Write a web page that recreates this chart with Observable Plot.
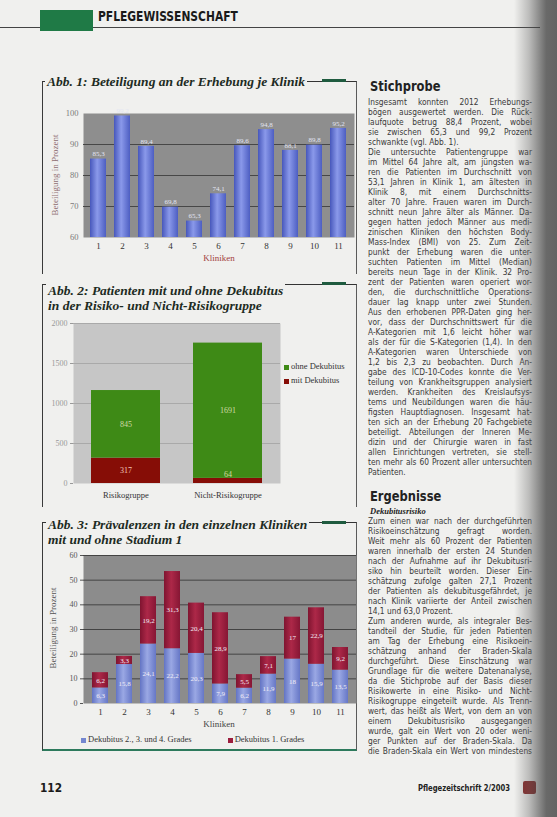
<!DOCTYPE html>
<html><head><meta charset="utf-8">
<script src="https://cdn.jsdelivr.net/npm/d3@7"></script>
<script src="https://cdn.jsdelivr.net/npm/@observablehq/plot@0.6"></script>
<style>
html,body{margin:0;padding:0;}
body{width:557px;height:817px;position:relative;overflow:hidden;background:#f0f0ee;font-family:"Liberation Sans",Arial,sans-serif;color:#333;}
.abs{position:absolute;}
.cond{font-family:"DejaVu Sans Condensed","DejaVu Sans",sans-serif;font-stretch:condensed;transform-origin:left top;white-space:nowrap;}
.box{position:absolute;border-left:1px solid #3a3a3a;border-right:1px solid #5a5a5a;border-top:1px solid #333;}
.title{position:absolute;background:#f0f0ee;font-family:"Liberation Serif",serif;font-style:italic;font-weight:bold;font-size:13.5px;line-height:15px;color:#1d2b23;padding:0 2px;}
.gbar{position:absolute;height:3px;background:#1f5b3f;}
.col{position:absolute;left:368px;width:164px;font-family:"DejaVu Sans Condensed","DejaVu Sans",sans-serif;font-size:8.3px;line-height:10px;color:#3a3a3a;}
.col div{white-space:nowrap;height:10px;overflow:visible;}
.axt{position:absolute;font-family:"Liberation Serif",serif;font-size:9px;white-space:nowrap;}
.leg{position:absolute;font-family:"Liberation Serif",serif;font-size:8.5px;color:#333;white-space:nowrap;}
.leg span.sw{display:inline-block;width:5px;height:5px;margin-right:2px;vertical-align:middle;}
</style></head>
<body>
<svg width="0" height="0" style="position:absolute">
<defs>
<linearGradient id="gBlue1" x1="0" x2="1" y1="0" y2="0">
<stop offset="0" stop-color="#4757bb"/><stop offset="0.45" stop-color="#8a99ea"/><stop offset="1" stop-color="#4d5ec2"/>
</linearGradient>
<linearGradient id="gBlue3" x1="0" x2="1" y1="0" y2="0">
<stop offset="0" stop-color="#6374c4"/><stop offset="0.45" stop-color="#9aa8e4"/><stop offset="1" stop-color="#6677c6"/>
</linearGradient>
<linearGradient id="gRed3" x1="0" x2="1" y1="0" y2="0">
<stop offset="0" stop-color="#7f1430"/><stop offset="0.45" stop-color="#ad2848"/><stop offset="1" stop-color="#861634"/>
</linearGradient>
</defs>
</svg>

<!-- header -->
<div class="abs" style="left:0;top:27px;width:540px;height:1px;background:#444;"></div>
<div class="abs" style="left:40px;top:10px;width:53px;height:21px;background:#1f7a46;"></div>
<div class="abs cond" style="left:98px;top:8px;font-size:14px;font-weight:bold;color:#1a1a1a;transform:scaleX(0.85);">PFLEGEWISSENSCHAFT</div>

<!-- chart frames -->
<div class="box" style="left:42px;top:81px;width:313px;height:192px;"></div>
<div class="title" style="left:45px;top:74px;">Abb. 1: Beteiligung an der Erhebung je Klinik</div>
<div class="gbar" style="left:322px;top:79px;width:24px;"></div>

<div class="box" style="left:42px;top:284px;width:313px;height:222px;"></div>
<div class="title" style="left:46px;top:283px;">Abb. 2: Patienten mit und ohne Dekubitus<br>in der Risiko- und Nicht-Risikogruppe</div>
<div class="gbar" style="left:322px;top:282px;width:24px;"></div>

<div class="box" style="left:42px;top:522px;width:313px;height:226px;border-bottom:2px solid #2d7a5c;"></div>
<div class="title" style="left:46px;top:517px;">Abb. 3: Prävalenzen in den einzelnen Kliniken<br>mit und ohne Stadium 1</div>
<div class="gbar" style="left:322px;top:521px;width:24px;"></div>

<div id="c1" class="abs" style="left:36px;top:100px;"></div>
<div class="axt" style="left:219px;top:258px;transform:translate(-50%,-50%);color:#a34040;">Kliniken</div>
<div class="axt" style="left:55px;top:175px;transform:translate(-50%,-50%) rotate(-90deg);color:#8e6e72;">Beteiligung in Prozent</div>

<div id="c2" class="abs" style="left:36px;top:310px;"></div>
<div id="leg2" class="leg" style="left:284px;top:361px;"></div>

<div id="c3" class="abs" style="left:36px;top:545px;"></div>
<div class="axt" style="left:219px;top:724px;transform:translate(-50%,-50%);color:#444;">Kliniken</div>
<div class="axt" style="left:53px;top:628px;transform:translate(-50%,-50%) rotate(-90deg);color:#555;">Beteiligung in Prozent</div>
<div id="leg3" class="leg" style="left:81px;top:734px;"></div>

<!-- text column -->
<div class="abs cond" style="left:370px;top:78px;font-size:14.5px;font-weight:bold;color:#222;transform:scaleX(0.88);">Stichprobe</div>
<div class="col" style="top:97px;">
<div class="jl">Insgesamt konnten 2012 Erhebungs-</div>
<div class="jl">bögen ausgewertet werden. Die Rück-</div>
<div class="jl">laufquote betrug 88,4 Prozent, wobei</div>
<div class="jl">sie zwischen 65,3 und 99,2 Prozent</div>
<div class="ll">schwankte (vgl. Abb. 1).</div>
<div class="jl">Die untersuchte Patientengruppe war</div>
<div class="jl">im Mittel 64 Jahre alt, am jüngsten wa-</div>
<div class="jl">ren die Patienten im Durchschnitt von</div>
<div class="jl">53,1 Jahren in Klinik 1, am ältesten in</div>
<div class="jl">Klinik 8, mit einem Durchschnitts-</div>
<div class="jl">alter 70 Jahre. Frauen waren im Durch-</div>
<div class="jl">schnitt neun Jahre älter als Männer. Da-</div>
<div class="jl">gegen hatten jedoch Männer aus medi-</div>
<div class="jl">zinischen Kliniken den höchsten Body-</div>
<div class="jl">Mass-Index (BMI) von 25. Zum Zeit-</div>
<div class="jl">punkt der Erhebung waren die unter-</div>
<div class="jl">suchten Patienten im Mittel (Median)</div>
<div class="jl">bereits neun Tage in der Klinik. 32 Pro-</div>
<div class="jl">zent der Patienten waren operiert wor-</div>
<div class="jl">den, die durchschnittliche Operations-</div>
<div class="jl">dauer lag knapp unter zwei Stunden.</div>
<div class="jl">Aus den erhobenen PPR-Daten ging her-</div>
<div class="jl">vor, dass der Durchschnittswert für die</div>
<div class="jl">A-Kategorien mit 1,6 leicht höher war</div>
<div class="jl">als der für die S-Kategorien (1,4). In den</div>
<div class="jl">A-Kategorien waren Unterschiede von</div>
<div class="jl">1,2 bis 2,3 zu beobachten. Durch An-</div>
<div class="jl">gabe des ICD-10-Codes konnte die Ver-</div>
<div class="jl">teilung von Krankheitsgruppen analysiert</div>
<div class="jl">werden. Krankheiten des Kreislaufsys-</div>
<div class="jl">tems und Neubildungen waren die häu-</div>
<div class="jl">figsten Hauptdiagnosen. Insgesamt hat-</div>
<div class="jl">ten sich an der Erhebung 20 Fachgebiete</div>
<div class="jl">beteiligt. Abteilungen der Inneren Me-</div>
<div class="jl">dizin und der Chirurgie waren in fast</div>
<div class="jl">allen Einrichtungen vertreten, sie stell-</div>
<div class="jl">ten mehr als 60 Prozent aller untersuchten</div>
<div class="ll">Patienten.</div>
</div>
<div class="abs cond" style="left:370px;top:488px;font-size:14.5px;font-weight:bold;color:#222;transform:scaleX(0.88);">Ergebnisse</div>
<div class="abs" style="left:370px;top:506px;font-family:'Liberation Serif',serif;font-size:8.5px;font-weight:bold;font-style:italic;color:#222;">Dekubitusrisiko</div>
<div class="col" style="top:516px;">
<div class="jl">Zum einen war nach der durchgeführten</div>
<div class="jl">Risikoeinschätzung gefragt worden.</div>
<div class="jl">Weit mehr als 60 Prozent der Patienten</div>
<div class="jl">waren innerhalb der ersten 24 Stunden</div>
<div class="jl">nach der Aufnahme auf ihr Dekubitusri-</div>
<div class="jl">siko hin beurteilt worden. Dieser Ein-</div>
<div class="jl">schätzung zufolge galten 27,1 Prozent</div>
<div class="jl">der Patienten als dekubitusgefährdet, je</div>
<div class="jl">nach Klinik variierte der Anteil zwischen</div>
<div class="ll">14,1 und 63,0 Prozent.</div>
<div class="jl">Zum anderen wurde, als integraler Bes-</div>
<div class="jl">tandteil der Studie, für jeden Patienten</div>
<div class="jl">am Tag der Erhebung eine Risikoein-</div>
<div class="jl">schätzung anhand der Braden-Skala</div>
<div class="jl">durchgeführt. Diese Einschätzung war</div>
<div class="jl">Grundlage für die weitere Datenanalyse,</div>
<div class="jl">da die Stichprobe auf der Basis dieser</div>
<div class="jl">Risikowerte in eine Risiko- und Nicht-</div>
<div class="jl">Risikogruppe eingeteilt wurde. Als Trenn-</div>
<div class="jl">wert, das heißt als Wert, von dem an von</div>
<div class="jl">einem Dekubitusrisiko ausgegangen</div>
<div class="jl">wurde, galt ein Wert von 20 oder weni-</div>
<div class="jl">ger Punkten auf der Braden-Skala. Da</div>
<div class="jl">die Braden-Skala ein Wert von mindestens</div>
</div>

<!-- footer -->
<div class="abs cond" style="left:40px;top:780px;font-size:13px;font-weight:bold;color:#1a1a1a;transform:scaleX(0.9);">112</div>
<div class="abs cond" style="left:418px;top:782px;font-size:9.5px;font-weight:bold;color:#222;transform:scaleX(0.8);">Pflegezeitschrift 2/2003</div>
<div class="abs" style="left:523px;top:781px;width:13px;height:13px;background:#8a2b2b;border-radius:2px;"></div>

<!-- right page shadow -->
<div class="abs" style="left:514px;top:0;width:43px;height:817px;background:linear-gradient(to right, rgba(80,80,80,0) 0%, rgba(90,90,90,0.35) 35%, rgba(60,60,60,0.75) 75%, rgba(75,75,75,0.85) 100%);"></div>

<script>
// ---------- data ----------
const kliniken = ["1", "2", "3", "4", "5", "6", "7", "8", "9", "10", "11"];
const beteiligung = [85.3, 99.2, 89.4, 69.8, 65.3, 74.1, 89.6, 94.8, 88.1, 89.8, 95.2];
const yTicks1 = [60, 70, 80, 90, 100];

const gruppen = ["Risikogruppe", "Nicht-Risikogruppe"];
const mitDekubitus = [317, 64];
const ohneDekubitus = [845, 1691];
const yTicks2 = [0, 500, 1000, 1500, 2000];
const legende2 = ["ohne Dekubitus", "mit Dekubitus"];
const farben2 = ["#3e8a16", "#860d06"];

const grad234 = [6.3, 15.8, 24.1, 22.2, 20.3, 7.9, 6.2, 11.9, 18, 15.9, 13.5];
const grad1 = [6.2, 3.3, 19.2, 31.3, 20.4, 28.9, 5.5, 7.1, 17, 22.9, 9.2];
const yTicks3 = [0, 10, 20, 30, 40, 50, 60];
const legende3 = ["Dekubitus 2., 3. und 4. Grades", "Dekubitus 1. Grades"];
const farben3 = ["#7487d0", "#9c1e3e"];

const fmt = v => String(v).replace(".", ",");
const serif = "'Liberation Serif', 'Times New Roman', serif";

// ---------- chart 1 ----------
const d1 = kliniken.map((k, i) => ({k, v: beteiligung[i]}));
const c1 = Plot.plot({
  width: 322, height: 172,
  marginLeft: 47, marginRight: 4, marginTop: 13, marginBottom: 35,
  style: {background: "transparent", fontFamily: serif, overflow: "visible"},
  x: {domain: kliniken, paddingInner: 0.32, paddingOuter: 0.16, axis: null},
  y: {domain: [yTicks1[0], yTicks1[yTicks1.length - 1]], axis: null},
  marks: [
    Plot.frame({fill: "#8e8e8e"}),
    Plot.ruleY(yTicks1.slice(1, -1), {stroke: "#474747"}),
    Plot.barY(d1, {x: "k", y1: yTicks1[0], y2: "v", fill: "url(#gBlue1)"}),
    Plot.text(d1, {x: "k", y: "v", text: d => fmt(d.v), dy: -5, fill: "#e2e5f3", fontSize: 7}),
    Plot.axisX({tickSize: 0, tickPadding: 5, fontSize: 9, color: "#333", label: null}),
    Plot.axisY({ticks: yTicks1, tickFormat: d => String(d), tickSize: 0, tickPadding: 5, fontSize: 8.5, color: "#7a7a7a", label: null})
  ]
});
document.getElementById("c1").appendChild(c1);

// ---------- chart 2 ----------
const d2 = [];
gruppen.forEach((g, i) => {
  d2.push({g, s: legende2[1], n: mitDekubitus[i]});
  d2.push({g, s: legende2[0], n: ohneDekubitus[i]});
});
const small = 150;
const c2 = Plot.plot({
  width: 250, height: 195,
  marginLeft: 37, marginRight: 6, marginTop: 13, marginBottom: 22,
  style: {background: "transparent", fontFamily: serif, overflow: "visible"},
  x: {domain: gruppen, paddingInner: 0.32, paddingOuter: 0.165, axis: null},
  y: {domain: [yTicks2[0], yTicks2[yTicks2.length - 1]], axis: null},
  color: {domain: legende2, range: farben2},
  marks: [
    Plot.frame({fill: "#c6c6c6"}),
    Plot.ruleY(yTicks2.slice(1), {stroke: "#a9a9a9"}),
    Plot.barY(d2, {x: "g", y: "n", z: "s", fill: "s"}),
    Plot.text(d2, Plot.stackY({x: "g", y: "n", z: "s", text: d => d.n >= small ? String(d.n) : "", fill: d => d.s === legende2[0] ? "#cfd9a6" : "#f2c7b8", fontSize: 8})),
    Plot.text(d2, Plot.stackY({x: "g", y: "n", z: "s", text: d => d.n < small ? String(d.n) : "", dy: -7, fill: "#d8d8a0", fontSize: 8})),
    Plot.axisX({tickSize: 0, tickPadding: 8, fontSize: 8.5, color: "#333", label: null}),
    Plot.axisY({ticks: yTicks2, tickFormat: d => String(d), tickSize: 3, tickPadding: 3, fontSize: 8, color: "#999", label: null})
  ]
});
document.getElementById("c2").appendChild(c2);

// ---------- chart 3 ----------
const d3d = [];
kliniken.forEach((k, i) => {
  d3d.push({k, s: legende3[0], v: grad234[i]});
  d3d.push({k, s: legende3[1], v: grad1[i]});
});
const c3 = Plot.plot({
  width: 322, height: 180,
  marginLeft: 47, marginRight: 2, marginTop: 10, marginBottom: 22,
  style: {background: "transparent", fontFamily: serif, overflow: "visible"},
  x: {domain: kliniken, paddingInner: 0.35, paddingOuter: 0.175, axis: null},
  y: {domain: [yTicks3[0], yTicks3[yTicks3.length - 1]], axis: null},
  color: {domain: legende3, range: ["url(#gBlue3)", "url(#gRed3)"]},
  marks: [
    Plot.frame({fill: "#8c8c8c"}),
    Plot.ruleY(yTicks3.slice(1), {stroke: "#434343"}),
    Plot.barY(d3d, {x: "k", y: "v", z: "s", fill: "s"}),
    Plot.text(d3d, Plot.stackY({x: "k", y: "v", z: "s", text: d => fmt(d.v), fill: "#f1eef6", fontSize: 7})),
    Plot.axisX({tickSize: 0, tickPadding: 5, fontSize: 9, color: "#333", label: null}),
    Plot.axisY({ticks: yTicks3, tickFormat: d => String(d), tickSize: 3, tickPadding: 3, fontSize: 8, color: "#555", label: null})
  ]
});
document.getElementById("c3").appendChild(c3);

// ---------- legends ----------
function legend(el, names, colors, gap, vertical) {
  names.forEach((n, i) => {
    const item = document.createElement(vertical ? "div" : "span");
    if (vertical) item.style.height = "14px";
    else if (i > 0) item.style.marginLeft = gap + "px";
    const sw = document.createElement("span");
    sw.className = "sw"; sw.style.background = colors[i];
    item.appendChild(sw);
    item.appendChild(document.createTextNode(n));
    el.appendChild(item);
  });
}
legend(document.getElementById("leg2"), legende2, farben2, 0, true);
legend(document.getElementById("leg3"), legende3, farben3, 36, false);

// ---------- justify text lines ----------
document.querySelectorAll(".jl, .ll").forEach(el => {
  const W = el.parentNode.clientWidth;
  const txt = el.textContent;
  const span = document.createElement("span");
  span.textContent = txt; el.textContent = ""; el.appendChild(span);
  const nat = span.getBoundingClientRect().width;
  const spaces = (txt.match(/ /g) || []).length;
  if (nat > W) span.style.letterSpacing = ((W - nat) / txt.length) + "px";
  else if (el.classList.contains("jl") && spaces > 0) span.style.wordSpacing = ((W - nat) / spaces) + "px";
});
</script>
</body></html>
